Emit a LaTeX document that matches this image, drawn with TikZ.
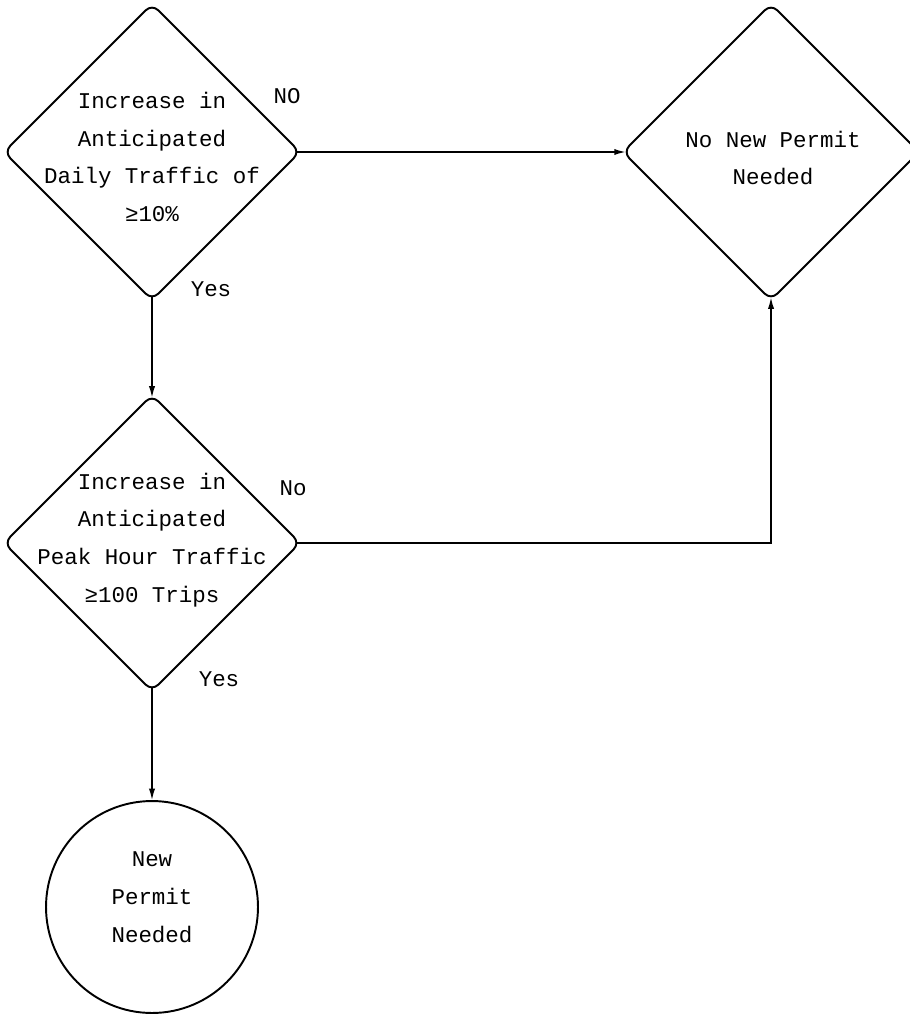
\documentclass[tikz,border=0pt]{standalone}
\usepackage{fontspec}
\setmonofont{Liberation Mono}
\usepackage{tikz}
\usetikzlibrary{arrows.meta,shapes.geometric}

\begin{document}
\begin{tikzpicture}[x=0.02cm,y=-0.02cm,line width=1.1pt,
  decision/.style={draw,diamond,rounded corners=5pt,minimum width=5.92cm,minimum height=5.92cm,inner sep=0pt,outer sep=0pt},
  endpoint/.style={draw,circle,minimum size=4.24cm,inner sep=0pt,outer sep=0pt},
  txt/.style={font=\ttfamily\fontsize{12.8}{21.5}\selectfont,align=center},
  lbl/.style={font=\ttfamily\fontsize{12.8}{16}\selectfont},
  flow/.style={-{Latex[length=7pt,width=3.5pt]},shorten <=-2pt},
  intip/.style={shorten >=-2pt}]
  \useasboundingbox (0,0) rectangle (909,1017);

  % shapes
  \node[decision] (daily) at (152,152) {};
  \node[decision] (peak) at (152,543) {};
  \node[decision] (nopermit) at (771,152) {};
  \node[endpoint] (permit) at (152,907) {};

  % texts inside
  \node[txt] (dailytxt) at (152,157) {Increase in\\Anticipated\\Daily Traffic of\\≥10\%};
  \node[txt] (peaktxt) at (152,540) {Increase in\\Anticipated\\Peak Hour Traffic\\≥100 Trips};
  \node[txt] (nopermittxt) at (773,158) {No New Permit\\Needed};
  \node[txt] (permittxt) at (152,897) {New\\Permit\\Needed};

  % connectors
  \draw[flow,intip] (daily.east) -- (nopermit.west);
  \draw[flow,intip] (daily.south) -- (peak.north);
  \draw[flow,intip] (peak.east) -| (nopermit.south);
  \draw[flow] (peak.south) -- (permit.north);

  % branch labels
  \node[lbl] (no1) at (287,96) {NO};
  \node[lbl] (yes1) at (211,289) {Yes};
  \node[lbl] (no2) at (293,488) {No};
  \node[lbl] (yes2) at (219,679) {Yes};
\end{tikzpicture}
\end{document}
